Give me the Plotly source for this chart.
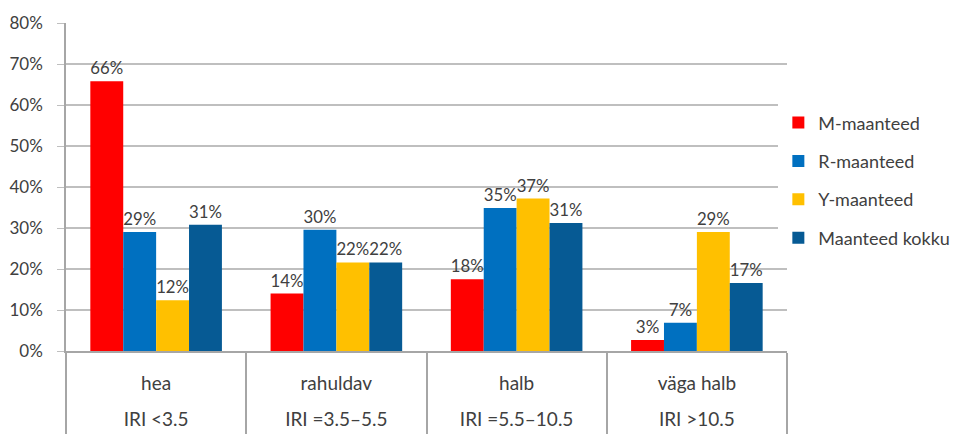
import plotly.graph_objects as go

categories = ["hea", "rahuldav", "halb", "väga halb"]
sub_labels = ["IRI <3.5", "IRI =3.5–5.5", "IRI =5.5–10.5", "IRI >10.5"]
series_names = ["M-maanteed", "R-maanteed", "Y-maanteed", "Maanteed kokku"]
m_values = [65.8, 14.0, 17.5, 2.7]
r_values = [29.0, 29.6, 34.9, 6.9]
y_values = [12.4, 21.6, 37.2, 29.0]
k_values = [30.8, 21.6, 31.2, 16.6]
series_values = [m_values, r_values, y_values, k_values]
colors = ["#FF0000", "#0070C0", "#FFC000", "#065A94"]

FONT = "Lato, 'Open Sans', sans-serif"
TXT = "#404040"

fig = go.Figure()
for i, (name, vals, col) in enumerate(zip(series_names, series_values, colors)):
    fig.add_trace(go.Bar(
        name=name, x=categories, y=vals, marker_color=col, marker_line_width=0,
        text=[f"{v:.0f}%" for v in vals], textposition="outside",
        textfont=dict(size=17, color=TXT, family=FONT), cliponaxis=False,
        legendgroup=f"g{i}",
    ))

fig.update_layout(
    width=966, height=434,
    margin=dict(l=58, r=187, t=15, b=91, autoexpand=False),
    paper_bgcolor="white", plot_bgcolor="white",
    barmode="group", bargap=0.27, bargroupgap=0,
    font=dict(family=FONT, color=TXT, size=15),
    showlegend=True,
    legend=dict(x=0.988, y=0.752, xanchor="left", yanchor="top",
                font=dict(size=18, color=TXT, family=FONT),
                tracegroupgap=12, itemwidth=30),
    uniformtext=dict(mode=False),
)
fig.update_yaxes(range=[0, 80], dtick=10, ticksuffix="%", showgrid=True,
                 gridcolor="#BFBFBF", gridwidth=1.5, zeroline=False,
                 showline=True, linecolor="#A6A6A6", linewidth=1.5,
                 ticks="outside", ticklen=7, tickcolor="#BFBFBF",
                 ticklabelstandoff=11, automargin=False,
                 tickfont=dict(size=17, color=TXT, family=FONT))
fig.update_xaxes(tickmode="array", tickvals=categories,
                 ticktext=[f"<span style='font-size:19px'>{c}</span><br><br>"
                           f"<span style='font-size:19px'>{s}</span>"
                           for c, s in zip(categories, sub_labels)],
                 tickson="boundaries", ticks="outside", ticklen=95,
                 tickcolor="#A6A6A6", tickwidth=1.5,
                 showline=True, linecolor="#A6A6A6", linewidth=1.5,
                 ticklabelstandoff=20, automargin=False,
                 showgrid=False, tickfont=dict(size=14, color=TXT, family=FONT))

fig.write_html("out.html")
